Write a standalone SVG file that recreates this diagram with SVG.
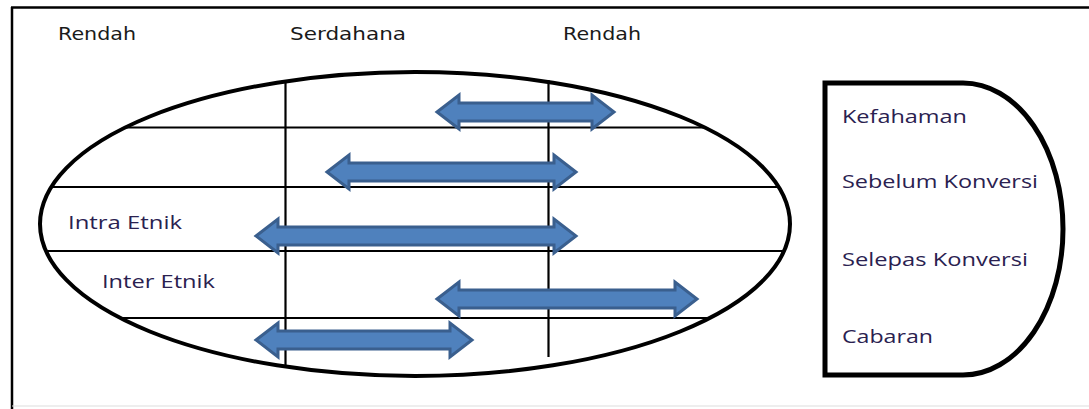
<svg xmlns="http://www.w3.org/2000/svg" width="1089" height="409" viewBox="0 0 1089 409">
<style>
.frame{stroke:#000;stroke-width:2.5;fill:none}
.grid{stroke:#000;stroke-width:2.2;fill:none}
.ell{stroke:#000;stroke-width:4;fill:none}
.arr{fill:#4F81BD;stroke:#3A5F8E;stroke-width:3;stroke-linejoin:miter}
.top{font-family:"DejaVu Sans","Liberation Sans",sans-serif;font-size:17px;fill:#1a1a1a}
.lbl{font-family:"Open Sans","Liberation Sans",sans-serif;font-size:19px;fill:#2a2150}
</style>
<defs>
<clipPath id="ec"><ellipse cx="415" cy="224" rx="375" ry="152"/></clipPath>
</defs>
<rect x="0" y="0" width="1089" height="409" fill="#fff"/>
<g id="frame">
<line class="frame" x1="11" y1="7.5" x2="1089" y2="7.5"/>
<line class="frame" x1="12" y1="7" x2="12" y2="409"/>
<line x1="12" y1="406" x2="1089" y2="406" stroke="#ddd" stroke-width="1"/>
</g>
<g id="headers">
<text class="top" x="58" y="40" textLength="78" lengthAdjust="spacingAndGlyphs">Rendah</text>
<text class="top" x="290" y="40" textLength="116" lengthAdjust="spacingAndGlyphs">Serdahana</text>
<text class="top" x="563" y="40" textLength="78" lengthAdjust="spacingAndGlyphs">Rendah</text>
</g>
<g id="grid" clip-path="url(#ec)">
<line class="grid" x1="0" y1="127.5" x2="900" y2="127.5" stroke-width="1.8"/>
<line class="grid" x1="0" y1="187" x2="900" y2="187"/>
<line class="grid" x1="0" y1="251" x2="900" y2="251"/>
<line class="grid" x1="0" y1="318" x2="900" y2="318"/>
<line class="grid" x1="285.5" y1="60" x2="285.5" y2="400" stroke-width="2.5"/>
</g>
<line class="grid" x1="548.5" y1="80" x2="548.5" y2="357" stroke-width="2.5"/>
<g id="ellipse">
<ellipse class="ell" cx="415" cy="224" rx="375" ry="152"/>
</g>
<g id="rowlabels">
<text class="lbl" x="68" y="229" textLength="114" lengthAdjust="spacingAndGlyphs">Intra Etnik</text>
<text class="lbl" x="102" y="288" textLength="113" lengthAdjust="spacingAndGlyphs">Inter Etnik</text>
</g>
<g id="connectors">
<polygon class="arr" points="437,112 459,95 459,103 592,103 592,95 614,112 592,129 592,121 459,121 459,129"/>
<polygon class="arr" points="327,172 349,155 349,163 554,163 554,155 576,172 554,189 554,181 349,181 349,189"/>
<polygon class="arr" points="256,236 278,219 278,227 554,227 554,219 576,236 554,253 554,245 278,245 278,253"/>
<polygon class="arr" points="437,299 459,282 459,290 675,290 675,282 697,299 675,316 675,308 459,308 459,316"/>
<polygon class="arr" points="256,340 278,323 278,331 450,331 450,323 472,340 450,357 450,349 278,349 278,357"/>
</g>
<g id="legend">
<path d="M825,83 H963 A100,146 0 0 1 963,375 H825 Z" fill="#fff" stroke="#000" stroke-width="5"/>
<text class="lbl" x="842" y="123" textLength="125" lengthAdjust="spacingAndGlyphs">Kefahaman</text>
<text class="lbl" x="842" y="188" textLength="196" lengthAdjust="spacingAndGlyphs">Sebelum Konversi</text>
<text class="lbl" x="842" y="266" textLength="186" lengthAdjust="spacingAndGlyphs">Selepas Konversi</text>
<text class="lbl" x="842" y="343" textLength="91" lengthAdjust="spacingAndGlyphs">Cabaran</text>
</g>
</svg>
